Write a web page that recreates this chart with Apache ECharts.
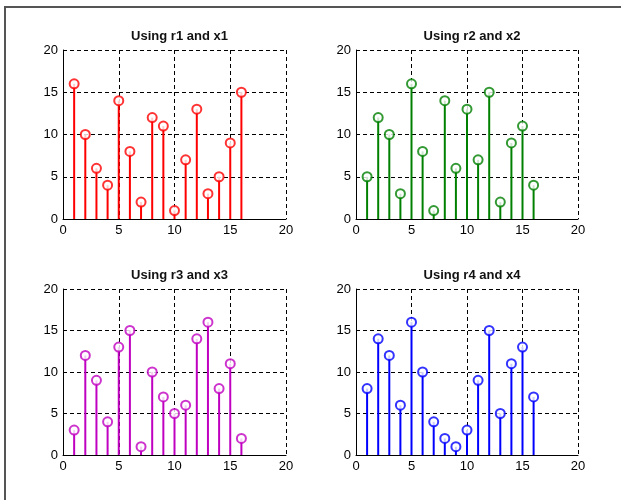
<!DOCTYPE html>
<html>
<head>
<meta charset="utf-8">
<script src="https://cdn.jsdelivr.net/npm/echarts@6/dist/echarts.min.js"></script>
<style>
  html, body { margin: 0; padding: 0; background: #fff; }
  #main { width: 621px; height: 500px; }
  #frame { position: absolute; left: 4px; top: 6px; width: 640px; height: 520px;
           border-left: 2px solid #555; border-top: 2px solid #555; pointer-events: none; }
</style>
</head>
<body>
<div id="main"></div>
<div id="frame"></div>
<script>
window.onload = function () {

    // x positions 1..16 and the four r vectors
    var xs = [1, 2, 3, 4, 5, 6, 7, 8, 9, 10, 11, 12, 13, 14, 15, 16];
    var r1 = [16, 10, 6, 4, 14, 8, 2, 12, 11, 1, 7, 13, 3, 5, 9, 15];
    var r2 = [5, 12, 10, 3, 16, 8, 1, 14, 6, 13, 7, 15, 2, 9, 11, 4];
    var r3 = [3, 12, 9, 4, 13, 15, 1, 10, 7, 5, 6, 14, 16, 8, 11, 2];
    var r4 = [8, 14, 12, 6, 16, 10, 4, 2, 1, 3, 9, 15, 5, 11, 13, 7];
    var titles = ['Using r1 and x1', 'Using r2 and x2', 'Using r3 and x3', 'Using r4 and x4'];
    var colors = ['#ff0000', '#008000', '#c000c0', '#0000ff'];
    var seriesData = [r1, r2, r3, r4];

    var grids = [
        { left: 63, top: 50, width: 223, height: 169 },
        { left: 356, top: 50, width: 222, height: 169 },
        { left: 63, top: 289, width: 223, height: 166 },
        { left: 356, top: 289, width: 222, height: 166 }
    ];

    var chart = echarts.init(document.getElementById('main'));

    var axisCommon = function (i) {
        return {
            gridIndex: i,
            type: 'value',
            min: 0,
            max: 20,
            interval: 5,
            axisLine: { show: true, onZero: false, lineStyle: { color: '#000', width: 1 } },
            axisTick: { show: false },
            axisLabel: { color: '#000', fontSize: 13, fontFamily: 'Liberation Sans, Arial', margin: 5 },
            splitLine: { show: true, lineStyle: { color: '#000', type: [4, 3], width: 1 } }
        };
    };

    var option = {
        animation: false,
        title: [],
        grid: grids,
        xAxis: [],
        yAxis: [],
        series: []
    };

    for (var i = 0; i < 4; i++) {
        var g = grids[i];
        option.title.push({
            text: titles[i],
            left: g.left + g.width / 2,
            top: g.top - 25,
            textAlign: 'center',
            textStyle: { fontSize: 13, fontWeight: 'bold', color: '#111', fontFamily: 'Liberation Sans, Arial' }
        });
        option.xAxis.push(axisCommon(i));
        option.yAxis.push(axisCommon(i));

        var pts = xs.map(function (x, k) { return [x, seriesData[i][k]]; });

        option.series.push({
            type: 'custom',
            xAxisIndex: i,
            yAxisIndex: i,
            data: pts,
            renderItem: (function (col) {
                return function (params, api) {
                    var p0 = api.coord([api.value(0), 0]);
                    var p1 = api.coord([api.value(0), api.value(1)]);
                    return {
                        type: 'line',
                        shape: { x1: p0[0], y1: p0[1], x2: p1[0], y2: p1[1] },
                        style: { stroke: col, lineWidth: 2 }
                    };
                };
            })(colors[i]),
            z: 3
        });
        option.series.push({
            type: 'scatter',
            xAxisIndex: i,
            yAxisIndex: i,
            data: pts,
            symbol: 'emptyCircle',
            symbolSize: 9,
            itemStyle: { color: colors[i], borderColor: colors[i], borderWidth: 2 },
            z: 4
        });
    }

    chart.setOption(option);
};
</script>
</body>
</html>
